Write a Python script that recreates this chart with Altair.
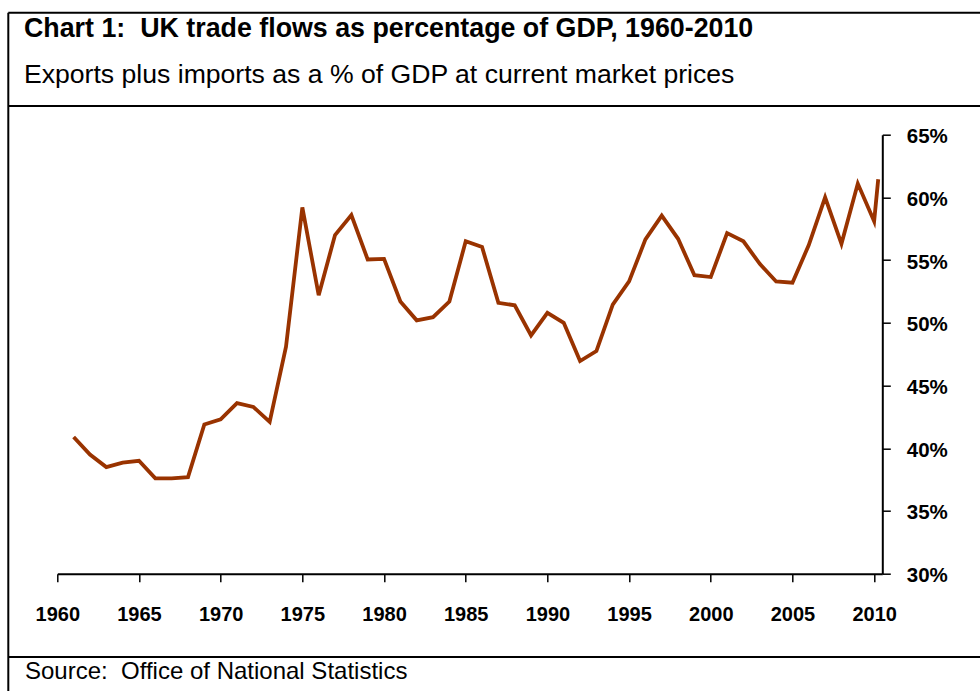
import altair as alt
import pandas as pd

# ---- data ----
years = [1961, 1962, 1963, 1964, 1965, 1966, 1967, 1968, 1969, 1970,
         1971, 1972, 1973, 1974, 1975, 1976, 1977, 1978, 1979, 1980,
         1981, 1982, 1983, 1984, 1985, 1986, 1987, 1988, 1989, 1990,
         1991, 1992, 1993, 1994, 1995, 1996, 1997, 1998, 1999, 2000,
         2001, 2002, 2003, 2004, 2005, 2006, 2007, 2008, 2009, 2010,
         2010.25]
trade_pct = [40.9, 39.5, 38.5, 38.85, 39.0, 37.6, 37.6, 37.7, 41.9, 42.3,
             43.6, 43.3, 42.1, 48.1, 59.2, 52.2, 57.0, 58.6, 55.05, 55.1,
             51.7, 50.2, 50.45, 51.7, 56.5, 56.05, 51.6, 51.4, 49.0, 50.8,
             50.0, 46.95, 47.75, 51.45, 53.3, 56.65, 58.55, 56.7, 53.8, 53.65,
             57.15, 56.5, 54.7, 53.3, 53.2, 56.2, 60.0, 56.3, 61.1, 58.1,
             61.45]
x_ticks = [1960, 1965, 1970, 1975, 1980, 1985, 1990, 1995, 2000, 2005, 2010]
y_ticks = [30, 35, 40, 45, 50, 55, 60, 65]

title_text = "Chart 1:\u00a0 UK trade flows as percentage of GDP, 1960-2010"
subtitle_text = "Exports plus imports as a % of GDP at current market prices"
source_text = "Source:\u00a0 Office of National Statistics"

df = pd.DataFrame({"year": years, "pct": trade_pct})

FONT = "Liberation Sans"
LEFT, TOP = 57.3, 134.7
W, H = 825, 439

line = alt.Chart(df).mark_line(color="#993300", strokeWidth=3.8).encode(
    x=alt.X("year:Q",
            scale=alt.Scale(domain=[1960, 2010.5], nice=False, zero=False),
            axis=alt.Axis(values=x_ticks, format="d", title=None, grid=False,
                          orient="bottom", domainColor="black", domainWidth=2,
                          tickColor="black", tickWidth=1.5, tickSize=8,
                          labelFont=FONT, labelFontWeight="bold", labelFontSize=20,
                          labelColor="black", labelBaseline="alphabetic",
                          labelPadding=39, labelFlush=False)),
    y=alt.Y("pct:Q",
            scale=alt.Scale(domain=[30, 65], nice=False, zero=False),
            axis=alt.Axis(values=y_ticks, title=None, grid=False, orient="right",
                          labelExpr="datum.value + '%'",
                          domainColor="black", domainWidth=2,
                          tickColor="black", tickWidth=1.5, tickSize=8,
                          labelFont=FONT, labelFontWeight="bold", labelFontSize=20.5,
                          labelColor="black", labelAlign="left", labelBaseline="middle",
                          labelPadding=16, labelOffset=2, labelFlush=False)),
)

one = pd.DataFrame({"k": [0]})

def hrule(y, x1, x2):
    return alt.Chart(one).mark_rule(color="black", strokeWidth=2).encode(
        x=alt.value(x1), x2=alt.value(x2), y=alt.value(y))

def vrule(x, y1, y2):
    return alt.Chart(one).mark_rule(color="black", strokeWidth=2).encode(
        x=alt.value(x), y=alt.value(y1), y2=alt.value(y2))

def txt(text, x, y, size, weight):
    return alt.Chart(pd.DataFrame({"t": [text]})).mark_text(
        align="left", baseline="alphabetic", font=FONT, fontSize=size,
        fontWeight=weight, color="black").encode(
        x=alt.value(x), y=alt.value(y), text="t:N")

bx = 8.3 - LEFT
layers = [
    vrule(bx, 12.7 - TOP, 700 - TOP),
    hrule(12.7 - TOP, bx, 985 - LEFT),
    hrule(106 - TOP, bx, 985 - LEFT),
    hrule(657 - TOP, bx, 985 - LEFT),
    txt(title_text, 24 - LEFT, 36.7 - TOP, 26.8, "bold"),
    txt(subtitle_text, 24 - LEFT, 83.3 - TOP, 26.6, "normal"),
    txt(source_text, 25 - LEFT, 679.3 - TOP, 24, "normal"),
    line,
]

chart = alt.layer(*layers).properties(
    width=W, height=H,
    autosize=alt.AutoSizeParams(type="none"),
    padding={"left": LEFT, "top": TOP, "right": 980 - LEFT - W, "bottom": 691 - TOP - H},
    background="white",
).configure_view(strokeWidth=0)

chart.save("out.html", embed_options={"renderer": "svg", "actions": False})
